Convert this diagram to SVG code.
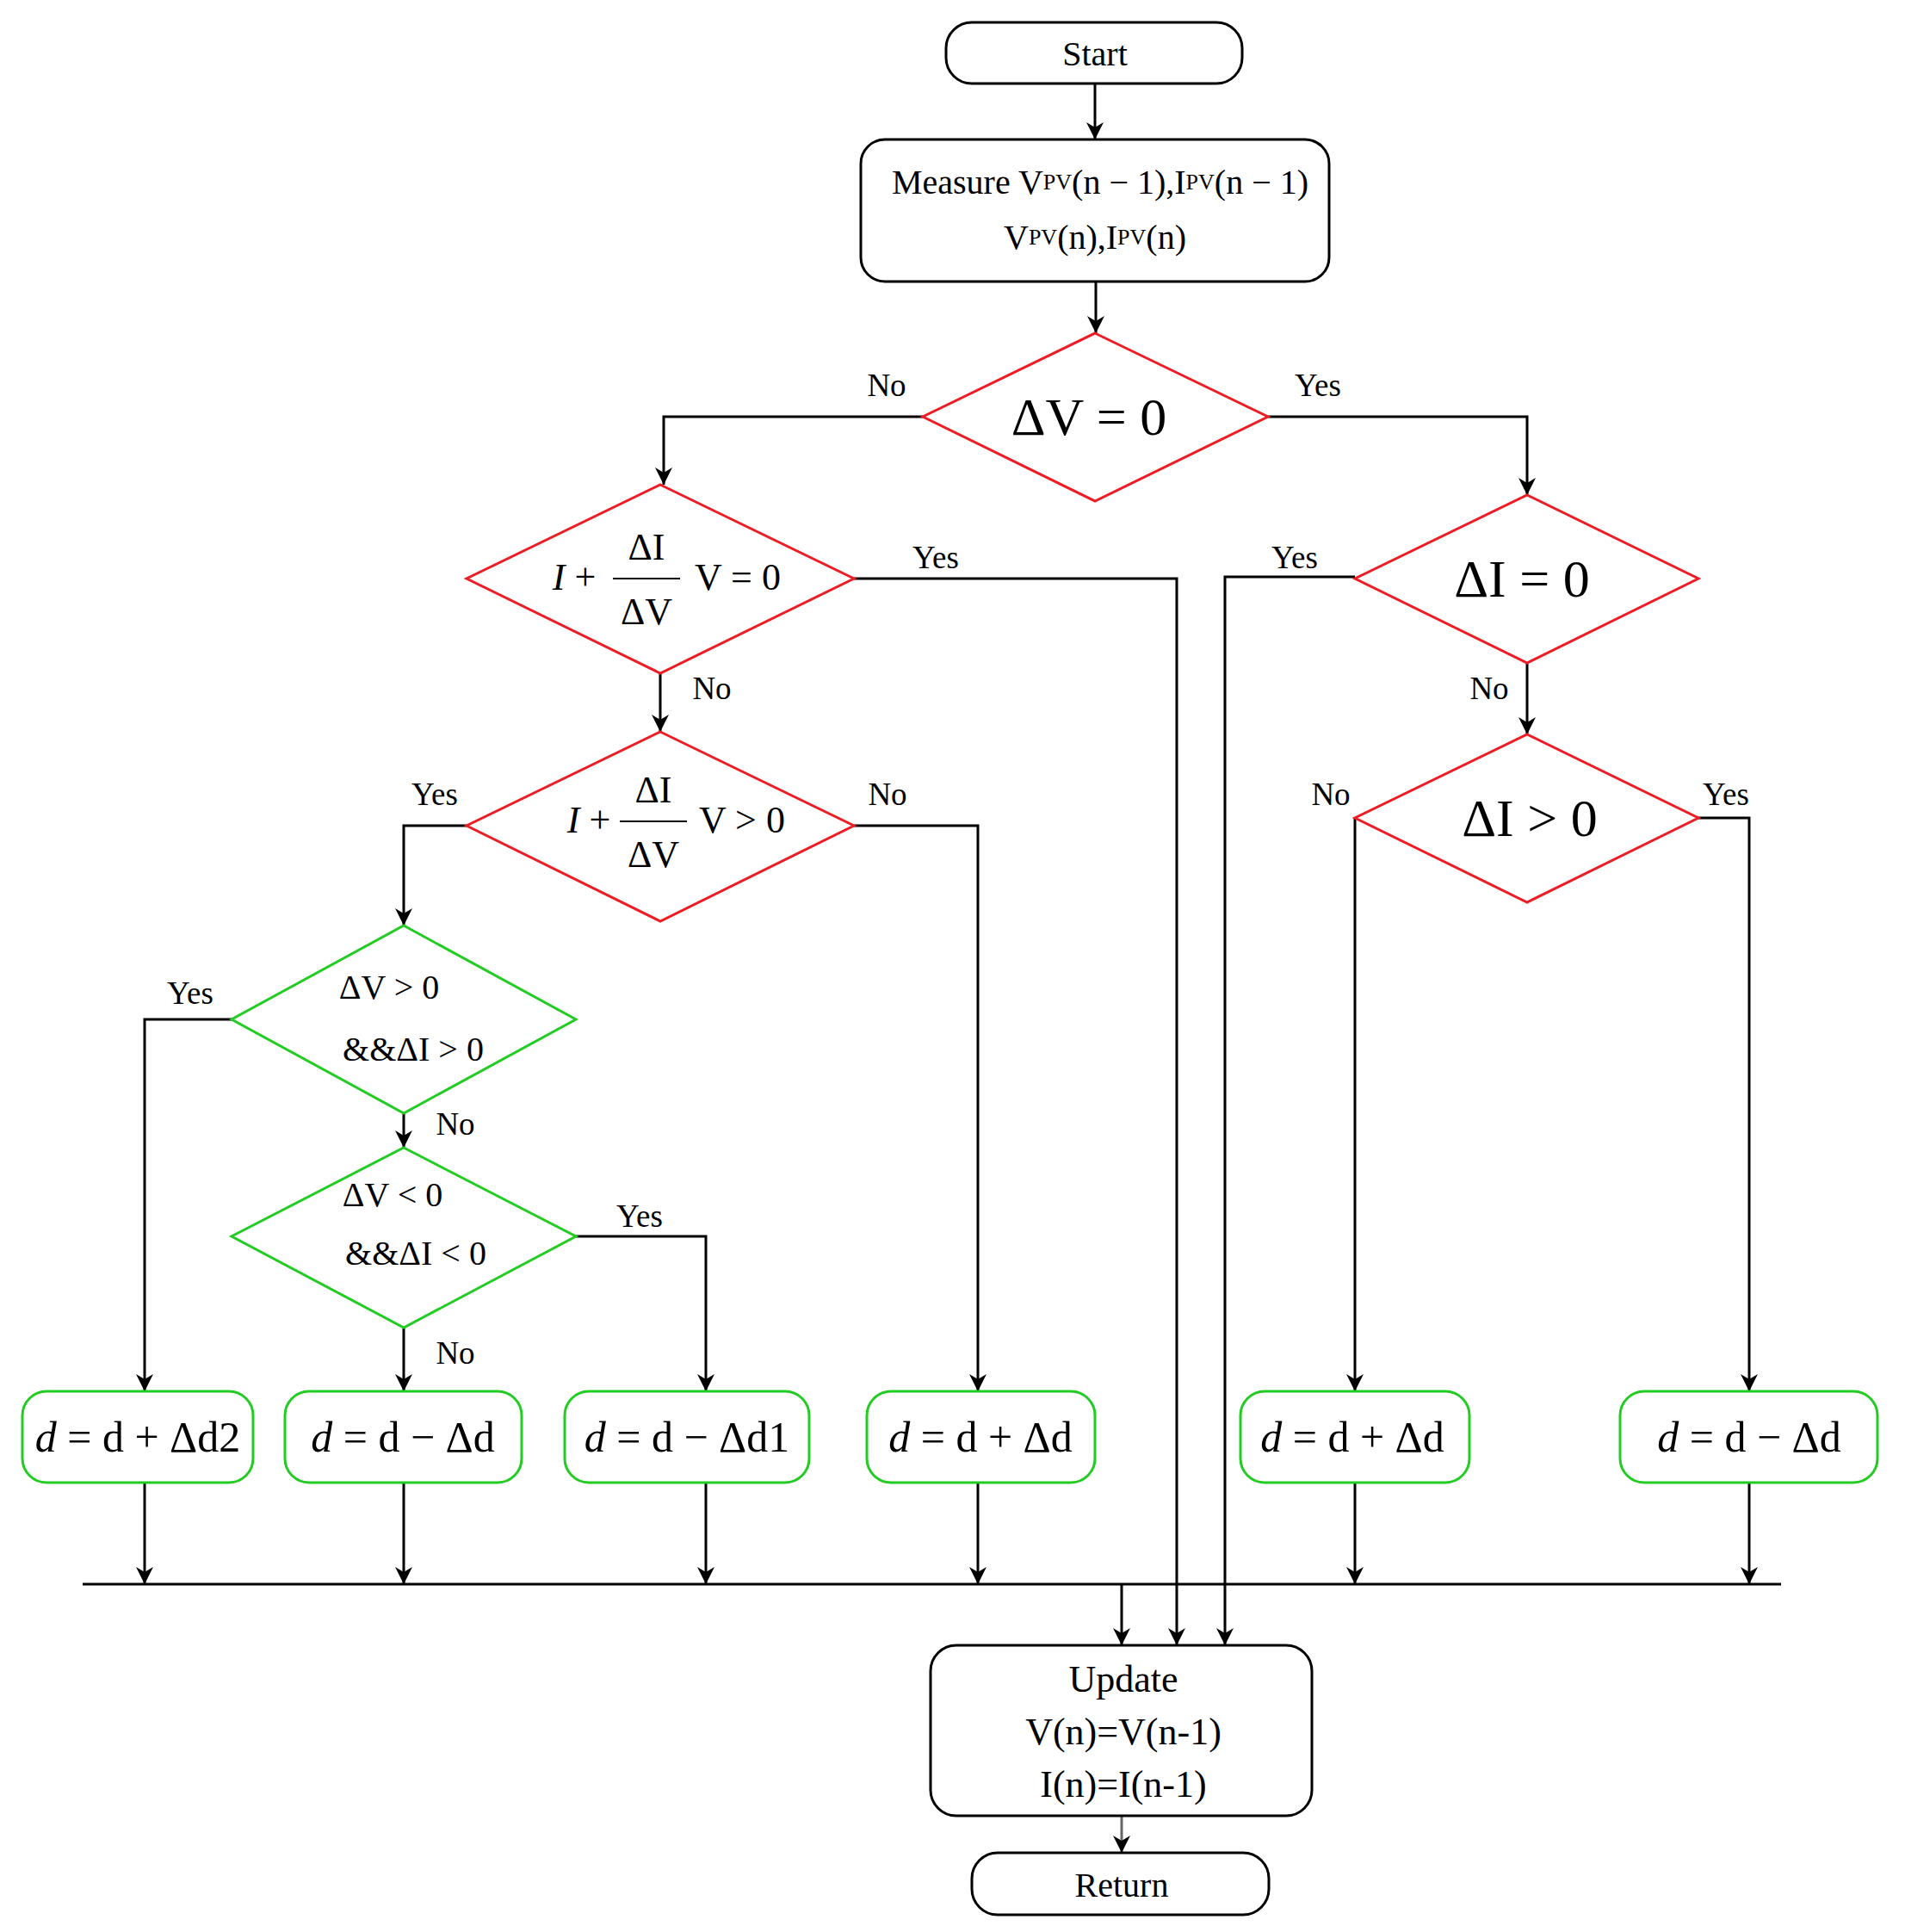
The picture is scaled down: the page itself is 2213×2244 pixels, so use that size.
<svg xmlns="http://www.w3.org/2000/svg" width="2213" height="2244" viewBox="0 0 2213 2244">
<style>
text{font-family:"Liberation Serif","Times New Roman",serif;fill:#000;text-anchor:middle;dominant-baseline:central}
.lbl{font-size:37px}
.big{font-size:62px}
.mid{font-size:44px}
.box{font-size:50px}
.bk{fill:#fff;stroke:#000;stroke-width:3}
.rd{fill:#fff;stroke:#ee1c24;stroke-width:3}
.gr{fill:#fff;stroke:#22cc22;stroke-width:3}
.c{fill:none;stroke:#000;stroke-width:3}
</style>
<defs><marker id="a" viewBox="0 0 10 10" refX="10" refY="5" markerWidth="7" markerHeight="8" markerUnits="userSpaceOnUse" orient="auto"><path d="M0,0 L10,5 L0,10 L3,5 z" fill="#000"/></marker>
<marker id="ah" viewBox="0 0 10 10" refX="10" refY="5" markerWidth="20" markerHeight="22" orient="auto" markerUnits="userSpaceOnUse"><path d="M0,0 L10,5 L0,10 L3,5 z" fill="#000"/></marker></defs>
<g id="connectors" class="c">
<path d="M1272,97 V162" marker-end="url(#ah)"/>
<path d="M1273,327 V387" marker-end="url(#ah)"/>
<path d="M1072,484 H771 V563" marker-end="url(#ah)"/>
<path d="M1473,484 H1774 V575" marker-end="url(#ah)"/>
<path d="M992,672 H1367 V1911" marker-end="url(#ah)"/>
<path d="M1574,670 H1423 V1911" marker-end="url(#ah)"/>
<path d="M767,782 V850" marker-end="url(#ah)"/>
<path d="M1774,770 V853" marker-end="url(#ah)"/>
<path d="M542,959 H469 V1075" marker-end="url(#ah)"/>
<path d="M992,959 H1136 V1616" marker-end="url(#ah)"/>
<path d="M1574,950 V1616" marker-end="url(#ah)"/>
<path d="M1973,950 H2032 V1616" marker-end="url(#ah)"/>
<path d="M269,1184 H168 V1616" marker-end="url(#ah)"/>
<path d="M469,1293 V1333" marker-end="url(#ah)"/>
<path d="M669,1436 H820 V1616" marker-end="url(#ah)"/>
<path d="M469,1542 V1616" marker-end="url(#ah)"/>
<path d="M168,1722 V1840" marker-end="url(#ah)"/>
<path d="M469,1722 V1840" marker-end="url(#ah)"/>
<path d="M820,1722 V1840" marker-end="url(#ah)"/>
<path d="M1136,1722 V1840" marker-end="url(#ah)"/>
<path d="M1574,1722 V1840" marker-end="url(#ah)"/>
<path d="M2032,1722 V1840" marker-end="url(#ah)"/>
<path d="M96,1840 H2069"/>
<path d="M1303,1840 V1911" marker-end="url(#ah)"/>
<path d="M1303,2109 V2152" stroke="#666" marker-end="url(#ah)"/>
</g>
<g id="labels">
<text class="lbl" x="1030" y="447">No</text>
<text class="lbl" x="1531" y="447">Yes</text>
<text class="lbl" x="1087" y="647">Yes</text>
<text class="lbl" x="1504" y="647">Yes</text>
<text class="lbl" x="827" y="799">No</text>
<text class="lbl" x="1730" y="799">No</text>
<text class="lbl" x="505" y="922">Yes</text>
<text class="lbl" x="1031" y="922">No</text>
<text class="lbl" x="1546" y="922">No</text>
<text class="lbl" x="2005" y="922">Yes</text>
<text class="lbl" x="221" y="1153">Yes</text>
<text class="lbl" x="529" y="1305">No</text>
<text class="lbl" x="743" y="1412">Yes</text>
<text class="lbl" x="529" y="1571">No</text>
</g>
<g id="start"><rect class="bk" x="1099" y="26" width="344" height="71" rx="30"/><text x="1272" y="62" style="font-size:40px">Start</text></g>
<g id="measure"><rect class="bk" x="1000" y="162" width="544" height="165" rx="28"/>
<text x="1278" y="211" style="font-size:40px">Measure V<tspan font-size="26">PV</tspan>(n − 1),I<tspan font-size="26">PV</tspan>(n − 1)</text>
<text x="1272" y="275" style="font-size:40px">V<tspan font-size="26">PV</tspan>(n),I<tspan font-size="26">PV</tspan>(n)</text></g>
<g id="d1"><polygon class="rd" points="1272,387 1473,484 1272,582 1072,484"/><text class="big" x="1265" y="484">ΔV = 0</text></g>
<g id="d2"><polygon class="rd" points="767,563 992,672 767,782 542,672"/>
<text class="mid" x="667" y="670"><tspan font-style="italic">I</tspan> +</text>
<text class="mid" x="751" y="635">ΔI</text><line x1="712" y1="672" x2="790" y2="672" stroke="#000" stroke-width="2"/><text class="mid" x="751" y="710">ΔV</text>
<text class="mid" x="857" y="670">V = 0</text></g>
<g id="d3"><polygon class="rd" points="1774,575 1973,672 1774,770 1574,672"/><text class="big" x="1768" y="672">ΔI = 0</text></g>
<g id="d4"><polygon class="rd" points="767,850 992,959 767,1070 542,959"/>
<text class="mid" x="684" y="952"><tspan font-style="italic">I</tspan> +</text>
<text class="mid" x="759" y="917">ΔI</text><line x1="720" y1="954" x2="798" y2="954" stroke="#000" stroke-width="2"/><text class="mid" x="759" y="992">ΔV</text>
<text class="mid" x="862" y="952">V &gt; 0</text></g>
<g id="d5"><polygon class="rd" points="1774,853 1973,950 1774,1048 1574,950"/><text class="big" x="1777" y="950">ΔI &gt; 0</text></g>
<g id="g1"><polygon class="gr" points="469,1075 669,1184 469,1293 269,1184"/><text x="452" y="1146" style="font-size:40px">ΔV &gt; 0</text><text x="480" y="1218" style="font-size:40px">&amp;&amp;ΔI &gt; 0</text></g>
<g id="g2"><polygon class="gr" points="469,1333 669,1436 469,1542 269,1436"/><text x="456" y="1387" style="font-size:40px">ΔV &lt; 0</text><text x="483" y="1455" style="font-size:40px">&amp;&amp;ΔI &lt; 0</text></g>
<g id="b1"><rect class="gr" x="26" y="1616" width="268" height="106" rx="28"/><text class="box" x="160" y="1669"><tspan font-style="italic">d</tspan> = d + Δd2</text></g>
<g id="b2"><rect class="gr" x="331" y="1616" width="275" height="106" rx="28"/><text class="box" x="468" y="1669"><tspan font-style="italic">d</tspan> = d − Δd</text></g>
<g id="b3"><rect class="gr" x="656" y="1616" width="284" height="106" rx="28"/><text class="box" x="798" y="1669"><tspan font-style="italic">d</tspan> = d − Δd1</text></g>
<g id="b4"><rect class="gr" x="1007" y="1616" width="265" height="106" rx="28"/><text class="box" x="1139" y="1669"><tspan font-style="italic">d</tspan> = d + Δd</text></g>
<g id="b5"><rect class="gr" x="1441" y="1616" width="266" height="106" rx="28"/><text class="box" x="1571" y="1669"><tspan font-style="italic">d</tspan> = d + Δd</text></g>
<g id="b6"><rect class="gr" x="1882" y="1616" width="299" height="106" rx="28"/><text class="box" x="2032" y="1669"><tspan font-style="italic">d</tspan> = d − Δd</text></g>
<g id="update"><rect class="bk" x="1081" y="1911" width="443" height="198" rx="30"/>
<text x="1305" y="1950" style="font-size:44px">Update</text><text x="1305" y="2011" style="font-size:44px">V(n)=V(n-1)</text><text x="1305" y="2072" style="font-size:44px">I(n)=I(n-1)</text></g>
<g id="return"><rect class="bk" x="1129" y="2152" width="345" height="72" rx="30"/><text x="1303" y="2189" style="font-size:40px">Return</text></g>
</svg>
